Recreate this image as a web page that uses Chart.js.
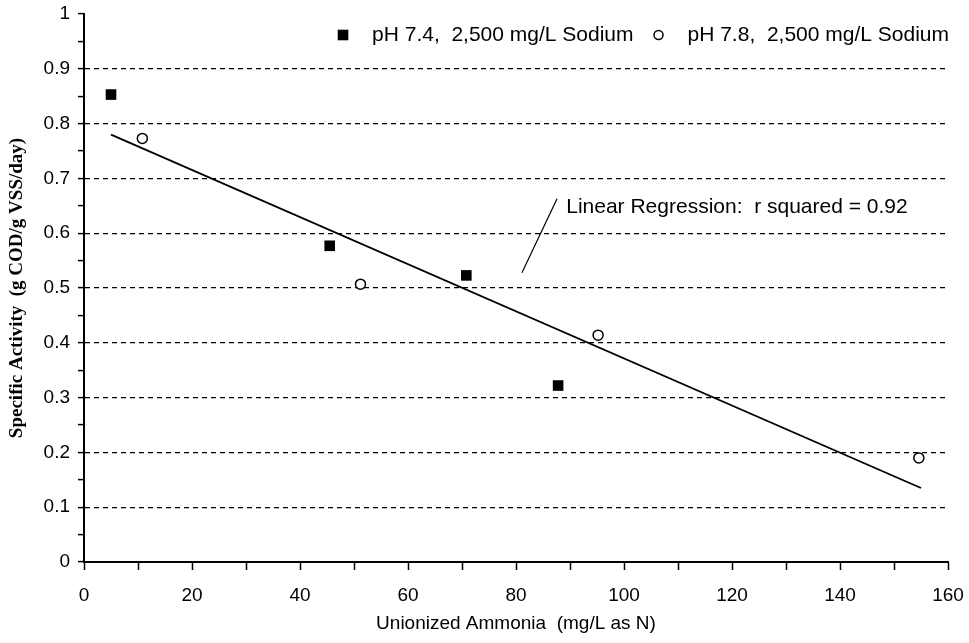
<!DOCTYPE html>
<html>
<head>
<meta charset="utf-8">
<script src="https://cdn.jsdelivr.net/npm/chart.js@4/dist/chart.umd.min.js"></script>
<style>
  html, body { margin: 0; padding: 0; background: #fff; }
  #wrap { width: 969px; height: 643px; }
</style>
</head>
<body>
<div id="wrap"><canvas id="myChart" width="969" height="643"></canvas></div>
<script>
// data
const ph74Label = "pH 7.4,  2,500 mg/L Sodium";
const ph74 = [
  { x: 5, y: 0.853 },
  { x: 45.5, y: 0.577 },
  { x: 70.8, y: 0.523 },
  { x: 87.8, y: 0.322 },
];

const ph78Label = "pH 7.8,  2,500 mg/L Sodium";
const ph78 = [
  { x: 10.8, y: 0.773 },
  { x: 51.2, y: 0.507 },
  { x: 95.2, y: 0.414 },
  { x: 154.6, y: 0.19 },
];

// end points of the fitted line
const regression = [
  { x: 5, y: 0.78 },
  { x: 155, y: 0.135 },
];

// callout line and text for the fit
const leader = [
  { x: 81.1, y: 0.528 },
  { x: 87.6, y: 0.663 },
];
const noteText = "Linear Regression:  r squared = 0.92";
const notePos = { x: 89.3, y: 0.647 };

const xTitle = "Unionized Ammonia  (mg/L as N)";
const yTitle = "Specific Activity  (g COD/g VSS/day)";

const sans = "'Liberation Sans', Arial, sans-serif";

// text note next to the fit line
const notePlugin = {
  id: "note",
  afterDatasetsDraw(chart) {
    const ctx = chart.ctx;
    const xs = chart.scales.x;
    const ys = chart.scales.y;
    ctx.save();
    ctx.fillStyle = "#000";
    ctx.font = "21px " + sans;
    ctx.textAlign = "left";
    ctx.textBaseline = "middle";
    ctx.fillText(noteText, xs.getPixelForValue(notePos.x), ys.getPixelForValue(notePos.y));
    ctx.restore();
  },
};

// one-row legend in the top right corner of the plot
const legendPlugin = {
  id: "rowLegend",
  afterDatasetsDraw(chart) {
    const ctx = chart.ctx;
    const area = chart.chartArea;
    const y = area.top + 21;
    let right = area.right + 1;
    ctx.save();
    ctx.font = "21px " + sans;
    ctx.textBaseline = "middle";
    ctx.textAlign = "left";
    const items = chart.data.datasets.slice(0, 2).reverse();
    items.forEach((ds) => {
      const w = ctx.measureText(ds.label).width;
      const textX = right - w;
      ctx.fillStyle = "#000";
      ctx.fillText(ds.label, textX, y);
      const mx = textX - 29;
      ctx.fillStyle = ds.backgroundColor;
      ctx.strokeStyle = ds.borderColor;
      ctx.lineWidth = ds.borderWidth;
      Chart.helpers.drawPoint(ctx, {
        pointStyle: ds.pointStyle,
        radius: ds.pointStyle === "rect" ? 7.5 : 4.5,
        rotation: 0,
        borderWidth: ds.borderWidth,
      }, mx, y);
      right = mx - 25;
    });
    ctx.restore();
  },
};

function onTenth(v) {
  return Math.abs(v * 10 - Math.round(v * 10)) < 1e-6;
}

var ctx = document.getElementById("myChart").getContext("2d");
var myChart = new Chart(ctx, {
  type: "scatter",
  data: {
    datasets: [
      {
        label: ph74Label,
        data: ph74,
        pointStyle: "rect",
        pointRadius: 7.5,
        backgroundColor: "#000",
        borderColor: "#000",
        borderWidth: 0,
      },
      {
        label: ph78Label,
        data: ph78,
        pointStyle: "circle",
        pointRadius: 5,
        backgroundColor: "#fff",
        borderColor: "#000",
        borderWidth: 1.5,
      },
      {
        label: "fit",
        data: regression,
        showLine: true,
        pointRadius: 0,
        borderColor: "#000",
        borderWidth: 1.8,
      },
      {
        label: "leader",
        data: leader,
        showLine: true,
        pointRadius: 0,
        borderColor: "#000",
        borderWidth: 1.2,
      },
    ],
  },
  options: {
    responsive: false,
    animation: false,
    layout: { padding: { top: 14, right: 21, left: 0, bottom: 0 } },
    plugins: {
      tooltip: { enabled: false },
      legend: { display: false },
    },
    scales: {
      x: {
        type: "linear",
        min: 0,
        max: 160,
        afterFit: (s) => {
          s.height = 81;
          s.paddingLeft = 0;
          s.paddingRight = 0;
        },
        ticks: {
          stepSize: 10,
          color: "#000",
          padding: 14,
          maxRotation: 0,
          font: { family: sans, size: 19 },
          callback: (v) => (v % 20 === 0 ? String(v) : ""),
        },
        grid: {
          drawOnChartArea: false,
          tickColor: "#000",
          tickLength: 8,
          tickWidth: 1.5,
        },
        border: { color: "#000", width: 2 },
        title: {
          display: true,
          text: xTitle,
          color: "#000",
          font: { family: sans, size: 19 },
          padding: { top: 0, bottom: 8 },
        },
      },
      y: {
        type: "linear",
        min: 0,
        max: 1,
        afterFit: (s) => {
          s.width = 84;
          s.paddingTop = 0;
          s.paddingBottom = 0;
        },
        ticks: {
          stepSize: 0.05,
          color: "#000",
          padding: 8,
          font: { family: sans, size: 19 },
          callback: (v) => {
            if (!onTenth(v)) return "";
            if (v === 0 || v === 1) return String(v);
            return v.toFixed(1);
          },
        },
        grid: {
          color: (c) => {
            const v = c.tick ? c.tick.value : 0;
            return onTenth(v) && v > 0.05 && v < 0.95 ? "#000" : "rgba(0,0,0,0)";
          },
          lineWidth: 1.2,
          tickColor: "#000",
          tickLength: 6,
          tickWidth: 1.5,
        },
        border: { color: "#000", width: 2, dash: [5, 4] },
        title: {
          display: true,
          text: yTitle,
          color: "#000",
          font: { family: "'Liberation Serif', 'Times New Roman', serif", size: 19, weight: "bold" },
          padding: { top: 6, bottom: 2 },
        },
      },
    },
  },
  plugins: [notePlugin, legendPlugin],
});
</script>
</body>
</html>
